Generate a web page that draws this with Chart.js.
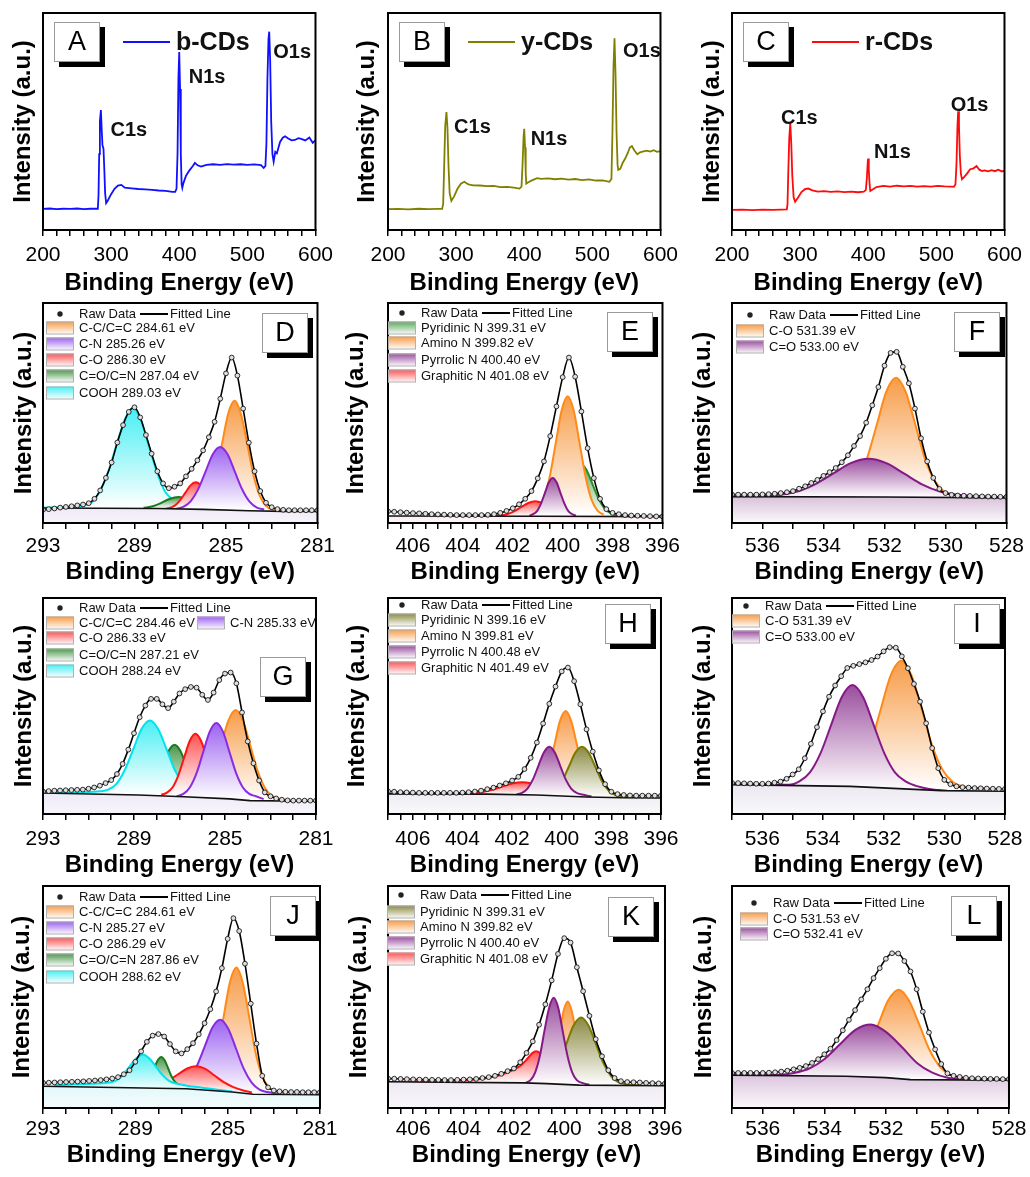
<!DOCTYPE html>
<html>
<head>
<meta charset="utf-8">
<script src="https://cdn.jsdelivr.net/npm/chart.js@4.4.0/dist/chart.umd.min.js"></script>
<style>
  body { margin: 0; background: #fff; }
  #wrap { position: relative; width: 1030px; height: 1177px; overflow: hidden; }
  #wrap canvas { position: absolute; }
</style>
</head>
<body>
<div id="wrap"></div>
<script>
// ---------- tick labels ----------
const surveyTicks = [200, 300, 400, 500, 600];
const c1sTicks = [293, 289, 285, 281];
const n1sTicks = [406, 404, 402, 400, 398, 396];
const o1sTicks = [536, 534, 532, 530, 528];

// ---------- survey spectra (eV, intensity) ----------
const surveyNames = ['b-CDs', 'y-CDs', 'r-CDs'];
const peakNames = ['C1s', 'N1s', 'O1s'];
const aSurvey = [[200,9.7],[210,9.9],[220,9.6],[230,9.8],[240,9.7],[250,9.9],[260,9.6],[270,9.8],[280.5,9.8],[281.5,16],[282.5,35],[283.5,50],[285,55.3],[286.2,46],[287.3,39],[288.8,37.5],[290,28],[291.2,17],[292.7,12.4],[295,13.5],[300,16.5],[305,19],[310,20.5],[315,20.8],[320,19.5],[330,19.2],[340,18.9],[350,18.7],[360,18.5],[370,18.2],[380,18.0],[390,17.6],[394,17.6],[396,19],[397.5,35],[398.8,70],[400,82],[401.2,65],[402.3,35],[403.5,21],[404.5,19.4],[406,21.5],[410,25],[415,27.5],[420,29.5],[423,30.9],[427,29.8],[432,29.2],[440,30.0],[450,30.3],[460,30.0],[470,30.4],[480,30.1],[490,30.3],[500,30.0],[510,30.2],[520,29.9],[524,28.6],[526.5,29.5],[528,40],[529.5,70],[531,88],[532.1,91.4],[533.5,78],[535,50],[536.8,35],[538.6,31.5],[541,36],[543.3,35.3],[548,40.6],[552,42.5],[555.4,43.2],[560,42.2],[565,41.3],[569.7,41.5],[575,42.3],[579,42.0],[585,41.3],[591,42.6],[596,40.2],[600,41.3]];
const bSurvey = [[200,9.6],[215,9.7],[230,9.5],[245,9.8],[260,9.6],[272,9.7],[279.5,9.7],[281,12],[282.5,30],[284,48],[285.8,54.3],[287.3,47],[288.8,30],[290.5,17],[293,13.4],[297,15.5],[302,19],[307,21.3],[312,22.2],[318,21],[325,20.6],[335,20.5],[345,20.2],[355,20.3],[365,19.8],[375,19.9],[385,19.5],[393,19.1],[396,20],[397.5,30],[399,43],[400,46.6],[401.2,38],[402.2,26],[403,21.4],[406,22],[412,23],[419,23.9],[425,23.6],[435,23.8],[445,23.4],[455,23.7],[465,23.2],[475,23.5],[485,23.0],[495,23.3],[505,22.8],[515,22.9],[525,22.2],[528,23.5],[529.5,45],[531,75],[532.5,88.4],[534,72],[535.5,45],[537,30],[538,27.7],[541,28.2],[544.6,31],[548,32.8],[552,35.5],[555,38],[558,38.7],[562,36.5],[566,34.9],[570,35.8],[575,36.2],[580,36.6],[585,36.1],[590,36.8],[595,36.0],[600,36.4]];
const cSurvey = [[200,9.3],[215,9.4],[230,9.2],[245,9.4],[260,9.3],[272,9.4],[280.5,9.5],[281.5,12],[282.5,25],[284,42],[285.5,49.4],[287,40],[288.5,25],[290.5,15],[292.7,13],[297,15],[302,17.5],[307,18.8],[312,19.1],[318,18.3],[326,17.7],[335,17.9],[345,17.6],[355,17.8],[365,17.5],[375,17.7],[385,17.4],[393.5,17.7],[396.5,18.5],[398,24],[399.2,31],[399.8,32.9],[400.8,28],[402,21],[403,18],[407,18.8],[412,19.8],[422,20.3],[432,20.0],[442,20.4],[452,20.1],[462,20.3],[472,20.0],[482,20.2],[492,20.0],[502,20.3],[512,20.1],[523,20.0],[525.6,19.9],[528,21],[529.5,30],[531,48],[532,54.7],[533.2,48],[534.5,34],[536,26],[537.6,23.4],[541,24.5],[545,26],[549.6,28],[554,28.3],[559,29.5],[563,27.8],[567,27.2],[571,27.5],[576,27.0],[581,27.6],[586,27.1],[591,27.8],[596,27.0],[600,27.4]];
// peak label anchors (eV, intensity)
const aPeakPos = [[299,46],[414,70.5],[538,82]];
const bPeakPos = [[297,47.2],[409.4,41.7],[545,82.1]];
const cPeakPos = [[272,51.4],[408.6,35.8],[521,57.3]];

// ---------- raw data, uniform steps ----------
// C1s: 293 -> 281 step 0.25 ; N1s: 407 -> 396 step 0.25 ; O1s: 537 -> 528 step 0.2
const dRaw = [6.0,6.3,6.6,7.0,7.3,7.6,8.0,8.4,9.0,11.0,14.8,20.5,27.5,36.6,44.5,50.5,52.6,48.0,40.0,31.5,23.5,18.0,15.8,16.5,18.0,21.2,24.6,28.5,33.0,39.0,46.0,56.5,68.0,75.2,67.0,52.0,36.5,23.5,14.5,9.2,7.2,6.3,6.0,5.8,5.8,5.8,5.8,5.8,5.8];
const eRaw = [5.3,5.1,4.9,4.7,4.5,4.4,4.2,4.0,3.9,3.8,3.7,3.6,3.6,3.6,3.6,3.6,3.7,4.0,4.6,5.5,6.7,8.5,11.0,14.5,20.3,28.0,39.5,53.0,66.3,75.2,66.5,50.7,34.0,20.4,11.0,6.3,4.6,4.0,3.6,3.4,3.3,3.2,3.1,3.0,3.0];
const fRaw = [12.9,12.9,12.9,12.9,12.9,13.0,13.1,13.3,13.6,14.0,14.5,15.6,16.7,18.2,19.6,21.4,23.1,25.0,27.6,30.8,35.0,39.5,45.6,53.5,61.8,71.5,77.3,77.8,71.0,63.5,52.0,38.5,28.0,20.5,15.5,13.6,12.8,12.5,12.4,12.3,12.2,12.1,12.0,12.0,11.9,11.9];
const gRaw = [10.4,10.6,10.8,10.9,11.0,11.1,11.2,11.3,11.7,12.3,13.1,14.3,15.7,18.5,23.2,29.8,37.4,44.8,50.2,53.3,53.3,50.8,49.0,52.0,55.8,57.8,58.8,58.5,55.2,52.8,56.2,62.0,65.0,65.5,60.5,47.0,33.6,23.5,15.5,10.0,8.2,7.2,6.6,6.3,6.2,6.2,6.2,6.2,6.2];
const hRaw = [10.5,10.3,10.1,10.0,9.9,9.8,9.8,9.8,9.8,9.8,9.8,9.8,9.9,10.1,10.4,10.8,11.5,12.2,13.2,14.2,15.5,17.2,20.8,26.0,33.1,41.9,51.0,59.0,66.0,67.8,61.5,50.8,39.2,28.9,20.2,13.8,10.3,9.2,8.8,8.6,8.5,8.5,8.5,8.5,8.5];
const iRaw = [14.4,14.3,14.2,14.1,14.0,14.0,14.1,14.5,15.0,16.3,18.3,20.7,25.8,32.5,40.2,47.5,54.3,59.5,63.8,67.6,68.6,69.4,70.2,71.3,72.9,75.3,77.2,77.0,73.0,67.5,60.2,52.0,42.0,30.5,21.2,15.8,13.8,12.8,12.4,12.2,12.0,11.9,11.8,11.7,11.6,11.6];
const jRaw = [11.4,11.4,11.5,11.6,11.7,11.8,11.9,12.0,12.2,12.4,12.6,12.9,13.3,13.9,15.2,17.0,20.8,25.5,29.8,32.6,33.3,32.2,28.8,25.5,24.6,26.5,29.2,33.2,38.2,44.5,52.5,63.0,76.2,85.5,79.7,65.0,47.0,29.0,14.5,9.3,7.9,7.5,7.3,7.2,7.2,7.1,7.1,7.1,7.1];
const kRaw = [13.3,13.2,13.1,13.0,12.9,12.8,12.8,12.7,12.7,12.6,12.6,12.7,12.8,12.9,13.1,13.5,13.9,14.5,15.4,16.6,17.8,20.6,24.8,30.0,37.5,46.7,57.5,69.4,76.5,74.5,63.4,52.6,41.5,31.0,23.3,17.0,13.5,12.1,11.7,11.6,11.5,11.3,11.2,11.1,11.0];
const lRaw = [15.8,15.8,15.8,15.8,15.8,15.8,15.9,16.1,16.4,16.8,17.4,18.1,18.9,20.3,22.0,24.2,26.7,30.6,35.0,39.7,44.1,48.9,53.5,58.5,63.0,67.2,69.7,69.6,66.2,61.5,53.5,43.4,34.0,26.4,19.8,15.6,14.5,14.0,13.6,13.4,13.3,13.2,13.1,13.1,13.0,13.0];

// ---------- backgrounds (eV, intensity) ----------
const dBase = [[293,6.8],[288,6.6],[286,6.2],[284,5.6],[282.5,5.3],[281,5.3]];
const eBase = [[407,3.2],[401,3.1],[396,2.9]];
const fBase = [[537,12.0],[532,11.8],[528,11.4]];
const gBase = [[293,9.7],[288.8,8.8],[286.8,8.0],[284.8,7.0],[283.9,6.2],[281,5.9]];
const hBase = [[407,9.3],[403,9.2],[401,8.8],[399,7.9],[397.5,7.5],[396,7.4]];
const iBase = [[537,13.6],[533.1,12.8],[530.1,10.8],[528,10.5]];
const jBase = [[293,9.8],[286.8,8.7],[284.8,7.2],[283.9,6.2],[281,6.0]];
const kBase = [[407,11.8],[401.6,11.3],[400.7,11.0],[399.4,10.3],[396,10.0]];
const lBase = [[537,14.8],[533.3,14.3],[532,13.7],[531.2,12.8],[528,12.5]];

// ---------- fitted components (eV, intensity) ----------
const dCC = [[286.27,6.3],[286.0,8.0],[285.72,12.5],[285.45,22.0],[285.17,36.2],[284.9,49.9],[284.62,55.6],[284.35,49.7],[284.07,35.9],[283.8,21.8],[283.52,12.3],[283.25,7.8],[282.97,6.1],[282.4,5.5]];
const dCN = [[287.17,6.5],[286.85,7.4],[286.53,10.1],[286.21,15.5],[285.89,23.5],[285.57,31.4],[285.25,34.5],[284.93,31.2],[284.61,23.2],[284.29,15.2],[283.97,9.7],[283.65,7.0],[283.33,6.1]];
const dCO = [[287.7,6.4],[287.47,6.8],[287.24,7.9],[287.01,10.3],[286.78,13.7],[286.55,17.1],[286.32,18.5],[286.09,17.1],[285.86,13.7],[285.63,10.3],[285.4,7.9],[285.17,6.8],[284.94,6.4]];
const dCON = [[288.6,6.9],[288.2,7.6],[287.85,9.0],[287.5,10.8],[287.07,11.8],[286.65,10.8],[286.3,9.0],[285.95,7.6],[285.55,6.7]];
const dCOOH = [[293,6.9],[292.0,7.3],[291.06,8.3],[290.55,13.6],[290.12,24.2],[289.76,36.4],[289.4,47.7],[289.07,52.3],[288.75,47.7],[288.39,35.6],[288.03,23.5],[287.67,14.4],[287.09,9.1],[286.5,7.4],[285.8,6.9]];

const ePyridinic = [[400.81,3.5],[400.56,4.3],[400.31,6.4],[400.06,11.0],[399.81,17.8],[399.56,24.4],[399.31,27.2],[399.06,24.4],[398.81,17.8],[398.56,11.0],[398.31,6.4],[398.06,4.3],[397.81,3.5],[397.3,3.1]];
const eAmino = [[401.24,3.8],[401.0,5.6],[400.76,10.5],[400.52,20.9],[400.28,36.2],[400.04,51.2],[399.8,57.6],[399.56,51.2],[399.32,36.2],[399.08,20.9],[398.84,10.5],[398.6,5.6],[398.36,3.8]];
const ePyrrolic = [[401.33,3.4],[401.18,4.0],[401.02,5.5],[400.87,8.8],[400.71,13.7],[400.56,18.4],[400.4,20.5],[400.24,18.4],[400.09,13.7],[399.93,8.8],[399.78,5.5],[399.62,4.0],[399.47,3.4]];
const eGraphitic = [[403.2,3.2],[402.75,3.3],[402.48,3.5],[402.2,4.1],[401.93,5.4],[401.65,7.3],[401.38,9.1],[401.1,9.9],[400.82,9.1],[400.55,7.3],[400.27,5.4],[400.0,4.1],[399.72,3.5],[399.45,3.3]];

const fCO = [[537,12.2],[534.5,12.3],[533.51,12.6],[533.2,14.4],[532.88,19.3],[532.57,29.5],[532.25,44.8],[531.94,59.7],[531.62,66.0],[531.31,59.7],[530.99,44.8],[530.68,29.5],[530.36,19.3],[530.05,14.4],[529.73,12.6],[528,11.6]];
const fCdO = [[536.03,12.2],[535.45,12.8],[534.86,14.3],[534.28,17.6],[533.69,22.4],[533.11,27.2],[532.52,29.2],[531.94,27.2],[531.35,22.4],[530.77,17.6],[530.18,14.3],[529.6,12.8],[529.01,12.2],[528.5,11.9]];

const gCC = [[286.45,7.1],[286.13,8.4],[285.81,12.2],[285.49,20.1],[285.17,31.8],[284.85,43.2],[284.53,48.1],[284.21,43.2],[283.89,31.8],[283.57,20.1],[283.25,12.2],[282.93,8.4],[282.61,7.1],[282.2,6.2]];
const gCN = [[287.12,8.2],[286.83,9.3],[286.54,12.4],[286.25,18.9],[285.96,28.6],[285.67,38.1],[285.38,42.1],[285.09,38.1],[284.8,28.6],[284.51,18.9],[284.22,12.4],[283.93,9.3],[283.64,8.2],[283.3,6.9]];
const gCO = [[287.8,8.9],[287.55,9.9],[287.3,12.4],[287.05,17.9],[286.8,25.9],[286.55,33.8],[286.3,37.1],[286.05,33.8],[285.8,25.9],[285.55,17.9],[285.3,12.4],[285.05,9.9],[284.8,8.9]];
const gCON = [[288.72,9.6],[288.47,10.3],[288.22,12.4],[287.97,16.7],[287.72,23.1],[287.47,29.4],[287.22,32.1],[286.97,29.4],[286.72,23.1],[286.47,16.7],[286.22,12.4],[285.97,10.3],[285.72,9.6]];
const gCOOH = [[292.5,9.8],[291.5,10.0],[290.49,10.5],[290.13,11.3],[289.76,14.1],[289.4,20.5],[289.03,30.0],[288.67,39.3],[288.3,43.3],[287.94,39.3],[287.57,30.0],[287.21,20.5],[286.84,14.1],[286.48,11.1],[286.11,10.0],[285.6,9.0]];

const hPyridinic = [[400.77,8.2],[400.51,8.9],[400.24,11.0],[399.98,15.4],[399.71,22.0],[399.45,28.4],[399.18,31.1],[398.92,28.4],[398.65,22.0],[398.39,15.4],[398.12,11.0],[397.86,8.9],[397.59,8.2],[397.1,7.6]];
const hAmino = [[401.19,8.7],[400.97,10.0],[400.74,13.6],[400.52,21.1],[400.29,32.2],[400.07,43.1],[399.84,47.7],[399.62,43.1],[399.39,32.2],[399.17,21.1],[398.94,13.6],[398.72,10.0],[398.49,8.7]];
const hPyrrolic = [[401.82,9.0],[401.6,9.8],[401.38,11.8],[401.16,16.0],[400.94,22.3],[400.72,28.5],[400.5,31.1],[400.28,28.5],[400.06,22.3],[399.84,16.0],[399.62,11.8],[399.4,9.8],[399.18,9.0],[398.8,8.1]];
const hGraphitic = [[404.2,9.3],[403.6,9.7],[403.2,10.2],[402.8,11.2],[402.4,12.7],[402.0,14.1],[401.6,14.7],[401.2,14.1],[400.8,12.7],[400.4,11.2],[400.0,10.2],[399.6,9.7]];

const iCO = [[533.49,12.7],[533.15,14.6],[532.8,20.0],[532.46,31.2],[532.11,47.8],[531.77,64.1],[531.42,71.0],[531.08,64.1],[530.73,47.8],[530.39,31.2],[530.04,20.0],[529.7,14.6],[529.35,12.7],[528.5,11.2]];
const iCdO = [[537,13.9],[536,13.7],[535.13,13.5],[534.78,15.1],[534.43,19.3],[534.08,28.2],[533.73,41.3],[533.38,54.2],[533.03,59.7],[532.68,54.2],[532.33,41.3],[531.98,28.2],[531.63,19.3],[531.28,15.1],[530.93,13.0],[530.5,11.6],[529.9,10.8]];

const jCC = [[286.27,8.0],[286.0,10.0],[285.72,15.1],[285.45,25.6],[285.17,41.4],[284.9,56.8],[284.62,63.3],[284.35,56.6],[284.07,41.2],[283.8,25.4],[283.52,14.8],[283.25,9.7],[282.97,7.8],[282.5,6.6]];
const jCN = [[287.36,9.3],[287.02,10.3],[286.68,13.0],[286.34,18.8],[286.0,27.5],[285.66,36.3],[285.32,39.8],[284.98,35.8],[284.64,26.8],[284.3,17.6],[283.96,11.4],[283.62,8.3],[283.28,7.2],[282.8,6.4]];
const jCO = [[288.75,9.7],[288.35,9.9],[287.95,10.8],[287.55,12.5],[287.15,15.2],[286.75,17.8],[286.35,18.8],[285.95,17.5],[285.55,14.5],[285.15,11.5],[284.75,9.4],[284.35,8.0],[283.95,7.0]];
const jCON = [[288.78,10.1],[288.63,10.6],[288.48,11.8],[288.33,14.2],[288.18,17.9],[288.03,21.5],[287.88,23.0],[287.73,21.5],[287.58,17.9],[287.43,14.2],[287.28,11.8],[287.13,10.6],[286.98,10.1]];
const jCOOH = [[292.5,10.3],[291.68,10.6],[290.68,11.0],[290.13,11.5],[289.84,12.3],[289.55,14.7],[289.26,18.5],[288.97,22.3],[288.68,24.1],[288.39,22.3],[288.1,18.5],[287.81,14.7],[287.52,12.1],[287.23,11.0],[286.68,9.9],[285.68,8.6],[284.8,7.4]];

const kPyridinic = [[401.1,10.7],[400.81,11.7],[400.51,14.5],[400.22,20.3],[399.92,28.8],[399.63,37.2],[399.33,40.8],[399.04,37.2],[398.74,28.8],[398.45,20.3],[398.15,14.5],[397.86,11.7],[397.56,10.7],[397.0,10.2]];
const kAmino = [[400.85,10.9],[400.69,12.1],[400.52,15.6],[400.36,22.7],[400.19,33.2],[400.03,43.6],[399.86,48.0],[399.7,43.6],[399.53,33.2],[399.37,22.7],[399.2,15.6],[399.04,12.1],[398.87,10.9]];
const kPyrrolic = [[401.52,11.4],[401.33,12.7],[401.15,16.2],[400.97,23.4],[400.79,34.5],[400.6,45.2],[400.42,49.7],[400.24,45.2],[400.06,34.5],[399.87,23.4],[399.69,16.2],[399.51,12.7],[399.32,11.4],[399.0,10.4]];
const kGraphitic = [[406.5,11.8],[405.5,12.0],[404.5,12.2],[403.5,12.8],[403.0,13.6],[402.5,15.0],[402.0,17.3],[401.7,19.4],[401.45,22.4],[401.28,24.6],[401.12,25.6],[400.95,24.6],[400.75,21.5],[400.5,17.0],[400.2,13.5],[399.9,11.8],[399.5,11.2]];

const lCO = [[533.59,13.8],[533.26,15.1],[532.92,18.7],[532.59,26.3],[532.25,37.6],[531.92,48.6],[531.58,53.3],[531.25,48.4],[530.91,37.4],[530.58,26.1],[530.24,18.5],[529.91,14.9],[529.57,13.6],[528.8,12.7]];
const lCdO = [[537,14.8],[535.49,15.0],[534.99,15.8],[534.49,17.8],[533.99,22.1],[533.49,28.7],[532.99,35.2],[532.49,37.6],[531.99,34.2],[531.49,27.6],[530.99,20.3],[530.49,15.9],[529.99,13.6],[529.3,12.7]];

// ---------- legend texts ----------
const dLabels = ['C-C/C=C 284.61 eV', 'C-N 285.26 eV', 'C-O 286.30 eV', 'C=O/C=N 287.04 eV', 'COOH 289.03 eV'];
const eLabels = ['Pyridinic N 399.31 eV', 'Amino N 399.82 eV', 'Pyrrolic N 400.40 eV', 'Graphitic N 401.08 eV'];
const fLabels = ['C-O 531.39 eV', 'C=O 533.00 eV'];
const gLabels = ['C-C/C=C 284.46 eV', 'C-N 285.33 eV', 'C-O 286.33 eV', 'C=O/C=N 287.21 eV', 'COOH 288.24 eV'];
const hLabels = ['Pyridinic N 399.16 eV', 'Amino N 399.81 eV', 'Pyrrolic N 400.48 eV', 'Graphitic N 401.49 eV'];
const iLabels = ['C-O 531.39 eV', 'C=O 533.00 eV'];
const jLabels = ['C-C/C=C 284.61 eV', 'C-N 285.27 eV', 'C-O 286.29 eV', 'C=O/C=N 287.86 eV', 'COOH 288.62 eV'];
const kLabels = ['Pyridinic N 399.31 eV', 'Amino N 399.82 eV', 'Pyrrolic N 400.40 eV', 'Graphitic N 401.08 eV'];
const lLabels = ['C-O 531.53 eV', 'C=O 532.41 eV'];

// ---------- styles ----------
const FONT = "'Liberation Sans', Arial, sans-serif";
Chart.defaults.font.family = FONT;
const colors = {
  orange: ['#ff8a17', '#f79c48'],
  violet: ['#8a2be2', '#9c62f0'],
  red: ['#ff1414', '#ff5252'],
  green: ['#1d7a1d', '#4a964a'],
  green2: ['#2a8c2a', '#5aaa5a'],
  cyan: ['#00e3ec', '#48eff3'],
  purple: ['#851a87', '#9a4d9e'],
  olive: ['#7a7a00', '#8a8a42']
};
const rows = [
  { top: 0, T: 13, B: 230, tickPad: 7, titlePad: 2 },
  { top: 290, T: 13, B: 233, tickPad: 5, titlePad: 3 },
  { top: 585, T: 13, B: 229, tickPad: 6.5, titlePad: 5 },
  { top: 877, T: 9, B: 231, tickPad: 2.5, titlePad: 7 }
];
const cols = [{ left: 0, padR: 19 }, { left: 345, padR: 19 }, { left: 689, padR: 18 }];
const axisRanges = {
  survey: { min: 200, max: 600, step: 20, reverse: false, majors: surveyTicks },
  c: { min: 281, max: 293, step: 1, reverse: true, majors: c1sTicks },
  n: { min: 396, max: 407, step: 0.5, reverse: true, majors: n1sTicks },
  o: { min: 528, max: 537, step: 1, reverse: true, majors: o1sTicks }
};

function pts(arr) { return arr.map(p => ({ x: p[0], y: p[1] })); }
function rawPts(start, step, ys) { return ys.map((y, i) => ({ x: +(start + step * i).toFixed(2), y })); }

function compDataset(arr, col, order) {
  const top = Math.max(...arr.map(p => p[1]));
  const low = Math.min(...arr.map(p => p[1]));
  return {
    data: pts(arr), order,
    borderColor: col[0], borderWidth: 2, pointRadius: 0,
    cubicInterpolationMode: 'monotone', fill: 'start',
    backgroundColor: ctx => {
      const ch = ctx.chart;
      if (!ch.chartArea) return col[1];
      const ys = ch.scales.y;
      const g = ch.ctx.createLinearGradient(0, ys.getPixelForValue(top), 0, ys.getPixelForValue(low));
      g.addColorStop(0, col[1]);
      g.addColorStop(1, '#ffffff');
      return g;
    }
  };
}

function baseDataset(arr, tint) {
  return {
    data: pts(arr), order: 1,
    borderColor: '#111', borderWidth: 1.6, pointRadius: 0, fill: 'start',
    backgroundColor: ctx => {
      const ch = ctx.chart;
      if (!ch.chartArea) return tint[0];
      const g = ch.ctx.createLinearGradient(0, ch.scales.y.getPixelForValue(arr[0][1]), 0, ch.chartArea.bottom);
      g.addColorStop(0, tint[0]);
      g.addColorStop(1, tint[1]);
      return g;
    }
  };
}

function rawDataset(data) {
  return {
    data, order: 0,
    borderColor: '#000', borderWidth: 1.6, cubicInterpolationMode: 'monotone', fill: false,
    pointRadius: 2.4, pointBackgroundColor: '#dedede', pointBorderColor: '#1a1a1a', pointBorderWidth: 0.9
  };
}

// ---------- drawing of frame, letter boxes, legends, peak labels ----------
const decor = {
  id: 'decor',
  afterDraw(chart, args, o) {
    const ctx = chart.ctx, a = chart.chartArea;
    ctx.save();
    ctx.strokeStyle = '#000'; ctx.lineWidth = 2;
    ctx.strokeRect(a.left, a.top, a.right - a.left, a.bottom - a.top);

    // letter box with shadow
    const bx = a.left + o.box[0], by = a.top + o.box[1];
    ctx.fillStyle = '#000'; ctx.fillRect(bx + 5, by + 5, 46, 40);
    ctx.fillStyle = '#fff'; ctx.fillRect(bx, by, 46, 40);
    ctx.strokeStyle = '#9a9a9a'; ctx.lineWidth = 1; ctx.strokeRect(bx + 0.5, by + 0.5, 45, 39);
    ctx.fillStyle = '#000'; ctx.font = '27px ' + FONT;
    ctx.textAlign = 'center'; ctx.textBaseline = 'middle';
    ctx.fillText(o.letter, bx + 23, by + 21);

    ctx.textAlign = 'left';
    if (o.survey) {
      const s = o.survey;
      const ly = a.top + 29;
      ctx.strokeStyle = s.color; ctx.lineWidth = 2;
      ctx.beginPath(); ctx.moveTo(a.left + 80, ly); ctx.lineTo(a.left + 127, ly); ctx.stroke();
      ctx.fillStyle = '#111'; ctx.font = 'bold 25px ' + FONT;
      ctx.fillText(s.name, a.left + 133, ly + 1);
      ctx.font = 'bold 20px ' + FONT;
      const xs = chart.scales.x, ys = chart.scales.y;
      s.peaks.forEach((p, i) => ctx.fillText(peakNames[i], xs.getPixelForValue(p[0]), ys.getPixelForValue(p[1])));
    }
    if (o.legend) {
      const lg = o.legend;
      const tx = a.left + lg.sx + 33;
      const ry = a.top + lg.raw;
      ctx.font = '13px ' + FONT; ctx.fillStyle = '#111';
      ctx.beginPath(); ctx.arc(tx - 19, ry, 2.7, 0, Math.PI * 2); ctx.fillStyle = '#222'; ctx.fill();
      ctx.fillStyle = '#111';
      ctx.fillText('Raw Data', tx, ry);
      ctx.strokeStyle = '#000'; ctx.lineWidth = 2;
      ctx.beginPath(); ctx.moveTo(tx + 61, ry); ctx.lineTo(tx + 89, ry); ctx.stroke();
      ctx.fillText('Fitted Line', tx + 91, ry);
      lg.items.forEach(it => {
        const sx = a.left + it.x, sy = a.top + it.y - 6.5;
        const g = ctx.createLinearGradient(0, sy, 0, sy + 13);
        g.addColorStop(0, colors[it.c][1]); g.addColorStop(1, '#ffffff');
        ctx.fillStyle = g; ctx.fillRect(sx, sy, 28, 13);
        ctx.strokeStyle = '#b0b0b0'; ctx.lineWidth = 1; ctx.strokeRect(sx + 0.5, sy + 0.5, 27, 12);
        ctx.fillStyle = '#111';
        ctx.fillText(it.t, sx + 33, a.top + it.y);
      });
    }
    ctx.restore();
  }
};

function legendItems(labels, cs, rowsY, sx) {
  return labels.map((t, i) => ({ t, c: cs[i], y: rowsY[i], x: sx }));
}

const wrap = document.getElementById('wrap');

function makePanel(s) {
  const row = rows[s.row], col = cols[s.col], ax = axisRanges[s.kind];
  const cv = document.createElement('canvas');
  cv.width = 340; cv.height = 300;
  cv.style.left = col.left + 'px'; cv.style.top = row.top + 'px';
  wrap.appendChild(cv);
  const tickFont = { family: FONT, size: 21 };
  const titleFont = { family: FONT, size: 24, weight: 'bold' };
  new Chart(cv, {
    type: 'line',
    data: { datasets: s.datasets },
    options: {
      responsive: false, animation: false, events: [],
      layout: { padding: { top: row.T, right: col.padR, bottom: 0, left: 0 } },
      plugins: { legend: { display: false }, tooltip: { enabled: false }, decor: s.decor },
      scales: {
        x: {
          type: 'linear', min: ax.min, max: ax.max, reverse: ax.reverse,
          ticks: {
            stepSize: ax.step, autoSkip: false, maxRotation: 0, minRotation: 0,
            padding: row.tickPad, font: tickFont, color: '#000',
            callback: v => ax.majors.some(m => Math.abs(m - v) < 1e-6) ? String(Math.round(v)) : ''
          },
          grid: { display: true, drawOnChartArea: false, drawTicks: true, tickLength: 6, color: '#000', lineWidth: 1.5 },
          border: { display: true, color: '#000', width: 2 },
          title: { display: true, text: 'Binding Energy (eV)', font: titleFont, color: '#000', padding: { top: 0, bottom: row.titlePad } },
          afterFit: sc => { sc.height = 300 - row.B; }
        },
        y: {
          min: 0, max: 100,
          ticks: { display: false },
          grid: { display: false, drawTicks: false },
          border: { display: true, color: '#000', width: 2 },
          title: { display: true, text: 'Intensity (a.u.)', font: titleFont, color: '#000', padding: { top: s.titleX - 14.4, bottom: 0 } },
          afterFit: sc => { sc.width = 43; }
        }
      }
    },
    plugins: [decor]
  });
}

function surveyPanel(row, col, letter, data, color, name, peaks, titleX) {
  makePanel({
    row, col, kind: 'survey', titleX,
    datasets: [{ data: pts(data), borderColor: color, borderWidth: 1.8, pointRadius: 0, tension: 0, fill: false }],
    decor: { letter, box: [11, 9], survey: { color, name, peaks } }
  });
}

function fitPanel(p) {
  const ax = axisRanges[p.kind];
  const start = ax.max, step = p.kind === 'o' ? -0.2 : -0.25;
  const comps = p.comps.map((c, i) => compDataset(c[0], colors[c[1]], 100 - i));
  makePanel({
    row: p.row, col: p.col, kind: p.kind, titleX: p.titleX,
    datasets: [rawDataset(rawPts(start, step, p.raw)), baseDataset(p.base, p.tint), ...comps],
    decor: { letter: p.letter, box: p.box, legend: p.legend }
  });
}

// ---------- row 1: survey ----------
surveyPanel(0, 0, 'A', aSurvey, '#1010ff', surveyNames[0], aPeakPos, 23);
surveyPanel(0, 1, 'B', bSurvey, '#808000', surveyNames[1], bPeakPos, 22);
surveyPanel(0, 2, 'C', cSurvey, '#ff0a0a', surveyNames[2], cPeakPos, 23);

// ---------- row 2 ----------
fitPanel({ row: 1, col: 0, kind: 'c', letter: 'D', box: [219, 10], titleX: 24, raw: dRaw, base: dBase, tint: ['#efe9f6', '#f7f4fa'],
  comps: [[dCC, 'orange'], [dCOOH, 'cyan'], [dCON, 'green'], [dCO, 'red'], [dCN, 'violet']],
  legend: { raw: 11, sx: 3, items: legendItems(dLabels, ['orange', 'violet', 'red', 'green', 'cyan'], [25, 41, 57, 73, 90], 3) } });
fitPanel({ row: 1, col: 1, kind: 'n', letter: 'E', box: [219, 9], titleX: 11, raw: eRaw, base: eBase, tint: ['#fbedf0', '#fdf9fa'],
  comps: [[ePyridinic, 'green2'], [eGraphitic, 'red'], [eAmino, 'orange'], [ePyrrolic, 'purple']],
  legend: { raw: 10, sx: 0, items: legendItems(eLabels, ['green2', 'orange', 'purple', 'red'], [25, 40, 57, 73], 0) } });
fitPanel({ row: 1, col: 2, kind: 'o', letter: 'F', box: [222, 9], titleX: 14, raw: fRaw, base: fBase, tint: ['#d9c1db', '#fcf9fc'],
  comps: [[fCO, 'orange'], [fCdO, 'purple']],
  legend: { raw: 12, sx: 4, items: legendItems(fLabels, ['orange', 'purple'], [28, 44], 4) } });

// ---------- row 3 ----------
const gItems = legendItems(gLabels, ['orange', 'violet', 'red', 'green', 'cyan'], [25, 25, 40, 57, 73], 3);
gItems[1].x = 154;
fitPanel({ row: 2, col: 0, kind: 'c', letter: 'G', box: [217, 59], titleX: 24, raw: gRaw, base: gBase, tint: ['#eeeaf7', '#f7f5fb'],
  comps: [[gCON, 'green'], [gCOOH, 'cyan'], [gCO, 'red'], [gCC, 'orange'], [gCN, 'violet']],
  legend: { raw: 10, sx: 3, items: gItems } });
fitPanel({ row: 2, col: 1, kind: 'n', letter: 'H', box: [217, 6], titleX: 12, raw: hRaw, base: hBase, tint: ['#efedf3', '#f9f8fa'],
  comps: [[hGraphitic, 'red'], [hAmino, 'orange'], [hPyridinic, 'olive'], [hPyrrolic, 'purple']],
  legend: { raw: 7, sx: 0, items: legendItems(hLabels, ['olive', 'orange', 'purple', 'red'], [22, 38, 54, 70], 0) } });
fitPanel({ row: 2, col: 2, kind: 'o', letter: 'I', box: [222, 6], titleX: 14, raw: iRaw, base: iBase, tint: ['#ebe8f0', '#f9f8fb'],
  comps: [[iCO, 'orange'], [iCdO, 'purple']],
  legend: { raw: 8, sx: 0, items: legendItems(iLabels, ['orange', 'purple'], [23, 39], 0) } });

// ---------- row 4 ----------
fitPanel({ row: 3, col: 0, kind: 'c', letter: 'J', box: [227, 10], titleX: 22, raw: jRaw, base: jBase, tint: ['#e2f8fa', '#f5fcfd'],
  comps: [[jCC, 'orange'], [jCN, 'violet'], [jCO, 'red'], [jCON, 'green'], [jCOOH, 'cyan']],
  legend: { raw: 11, sx: 3, items: legendItems(jLabels, ['orange', 'violet', 'red', 'green', 'cyan'], [26, 42, 58, 74, 91], 3) } });
fitPanel({ row: 3, col: 1, kind: 'n', letter: 'K', box: [220, 11], titleX: 14, raw: kRaw, base: kBase, tint: ['#eee9f2', '#f9f7fa'],
  comps: [[kAmino, 'orange'], [kGraphitic, 'red'], [kPyridinic, 'olive'], [kPyrrolic, 'purple']],
  legend: { raw: 9, sx: -1, items: legendItems(kLabels, ['olive', 'orange', 'purple', 'red'], [26, 41, 57, 73], -1) } });
fitPanel({ row: 3, col: 2, kind: 'o', letter: 'L', box: [219, 10], titleX: 15, raw: lRaw, base: lBase, tint: ['#dcc5de', '#fcf9fc'],
  comps: [[lCO, 'orange'], [lCdO, 'purple']],
  legend: { raw: 17, sx: 8, items: legendItems(lLabels, ['orange', 'purple'], [33, 48], 8) } });
</script>
</body>
</html>
